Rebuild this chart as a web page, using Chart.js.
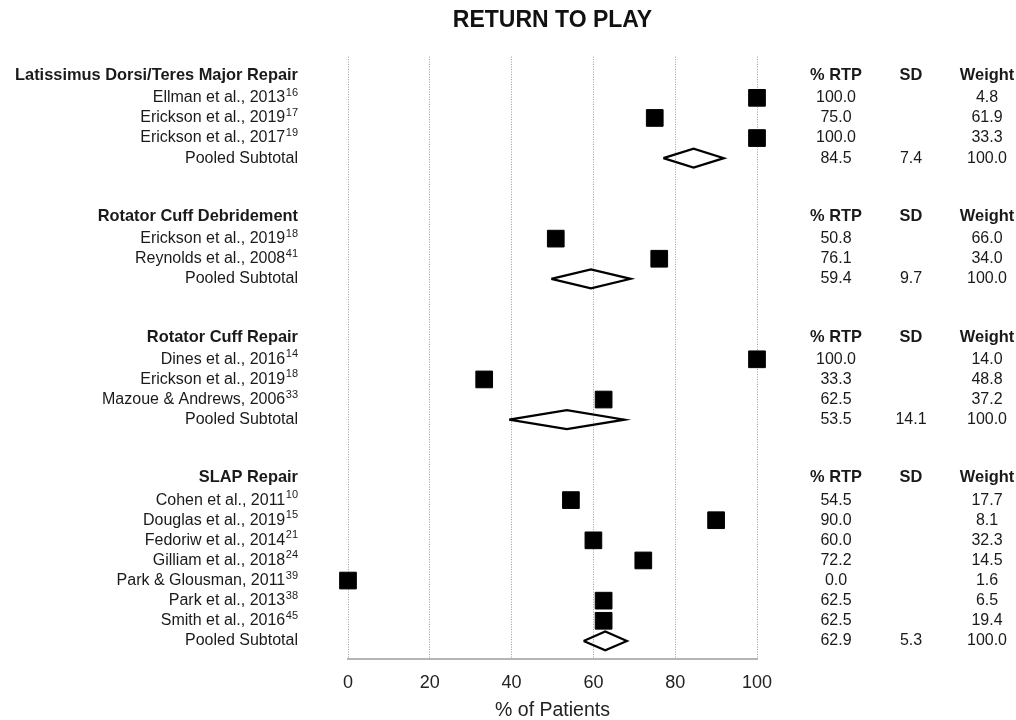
<!DOCTYPE html>
<html>
<head>
<meta charset="utf-8">
<title>Return to Play</title>
<script src="https://cdn.jsdelivr.net/npm/chart.js@4.4.1/dist/chart.umd.min.js"></script>
<style>
  html, body { margin: 0; padding: 0; background: #fff; }
  #wrap { width: 1016px; height: 720px; }
</style>
</head>
<body>
<div id="wrap"><canvas id="forestChart"></canvas></div>
<script>
const groups = ['Latissimus Dorsi/Teres Major Repair', 'Rotator Cuff Debridement', 'Rotator Cuff Repair', 'SLAP Repair'];

// one entry per study
const studyGroup = [0, 0, 0, 1, 1, 2, 2, 2, 3, 3, 3, 3, 3, 3, 3];
const studyNames = ['Ellman et al., 2013', 'Erickson et al., 2019', 'Erickson et al., 2017',
    'Erickson et al., 2019', 'Reynolds et al., 2008',
    'Dines et al., 2016', 'Erickson et al., 2019', 'Mazoue & Andrews, 2006',
    'Cohen et al., 2011', 'Douglas et al., 2019', 'Fedoriw et al., 2014', 'Gilliam et al., 2018',
    'Park & Glousman, 2011', 'Park et al., 2013', 'Smith et al., 2016'];
const studyRefs = ['16', '17', '19', '18', '41', '14', '18', '33', '10', '15', '21', '24', '39', '38', '45'];
const studyRTP = [100.0, 75.0, 100.0, 50.8, 76.1, 100.0, 33.3, 62.5, 54.5, 90.0, 60.0, 72.2, 0.0, 62.5, 62.5];
const studyWeight = [4.8, 61.9, 33.3, 66.0, 34.0, 14.0, 48.8, 37.2, 17.7, 8.1, 32.3, 14.5, 1.6, 6.5, 19.4];

// pooled subtotal per group
const pooledRTP = [84.5, 59.4, 53.5, 62.9];
const pooledSD = [7.4, 9.7, 14.1, 5.3];
const pooledWeight = [100.0, 100.0, 100.0, 100.0];

const xTicks = [0, 20, 40, 60, 80, 100];
const tableHeads = ['% RTP', 'SD', 'Weight'];

const FONT = '"Liberation Sans", Arial, Helvetica, sans-serif';

// row layout: header, studies, pooled, then a gap before the next group
const studyRow = [], pooledRow = [], headerRow = [];
let r = 0;
groups.forEach((g, gi) => {
    headerRow.push(r - 1.1);
    studyGroup.forEach((sg, i) => {
        if (sg === gi) studyRow[i] = r++;
    });
    pooledRow.push(r);
    r += 4;
});

const datasets = [{
    label: 'Studies',
    data: studyRTP.map((v, i) => ({ x: v, y: studyRow[i] })),
    pointStyle: 'rect',
    pointRadius: 11.8,
    backgroundColor: '#000',
    borderColor: '#000',
    borderWidth: 1,
    clip: false
}];

pooledRTP.forEach((m, gi) => {
    const sd = pooledSD[gi], row = pooledRow[gi];
    datasets.push({
        label: 'Pooled ' + groups[gi],
        data: [
            { x: m - sd, y: row },
            { x: m, y: row - 0.47 },
            { x: m + sd, y: row },
            { x: m, y: row + 0.47 },
            { x: m - sd, y: row }
        ],
        showLine: true,
        borderColor: '#000',
        borderWidth: 2.2,
        borderJoinStyle: 'miter',
        pointRadius: 0,
        fill: false,
        clip: false
    });
});

// left labels with superscript refs, and the table on the right
const forestText = {
    id: 'forestText',
    afterDraw(chart) {
        const ctx = chart.ctx;
        const y = chart.scales.y;
        const labelRight = 298;
        const cols = [836, 911, 987];
        ctx.save();
        ctx.fillStyle = '#1a1a1a';
        ctx.textBaseline = 'middle';

        groups.forEach((g, gi) => {
            const hy = y.getPixelForValue(headerRow[gi]);
            ctx.font = 'bold 16.4px ' + FONT;
            ctx.textAlign = 'right';
            ctx.fillText(g, labelRight, hy);
            ctx.textAlign = 'center';
            tableHeads.forEach((h, k) => ctx.fillText(h, cols[k], hy));

            const py = y.getPixelForValue(pooledRow[gi]);
            ctx.font = '16px ' + FONT;
            ctx.textAlign = 'right';
            ctx.fillText('Pooled Subtotal', labelRight, py);
            ctx.textAlign = 'center';
            ctx.fillText(pooledRTP[gi].toFixed(1), cols[0], py);
            ctx.fillText(pooledSD[gi].toFixed(1), cols[1], py);
            ctx.fillText(pooledWeight[gi].toFixed(1), cols[2], py);
        });

        studyNames.forEach((name, i) => {
            const sy = y.getPixelForValue(studyRow[i]);
            ctx.font = '11px ' + FONT;
            const supW = ctx.measureText(studyRefs[i]).width;
            ctx.textAlign = 'left';
            ctx.fillText(studyRefs[i], labelRight - supW, sy - 5);
            ctx.font = '16px ' + FONT;
            ctx.textAlign = 'right';
            ctx.fillText(name, labelRight - supW - 0.5, sy);
            ctx.textAlign = 'center';
            ctx.fillText(studyRTP[i].toFixed(1), cols[0], sy);
            ctx.fillText(studyWeight[i].toFixed(1), cols[2], sy);
        });
        ctx.restore();
    }
};

new Chart(document.getElementById('forestChart').getContext('2d'), {
    type: 'scatter',
    data: { datasets: datasets },
    options: {
        responsive: true,
        maintainAspectRatio: false,
        animation: false,
        layout: { padding: { left: 348, right: 259, top: 0, bottom: -2 } },
        scales: {
            x: {
                type: 'linear',
                min: 0,
                max: 100,
                afterBuildTicks: (axis) => { axis.ticks = xTicks.map(v => ({ value: v })); },
                ticks: { font: { size: 18, family: FONT }, color: '#222', padding: 13 },
                grid: { color: '#9a9a9a', lineWidth: 1, drawTicks: false },
                border: { display: true, color: '#b5b5b5', width: 2, dash: [1, 1.5] },
                title: {
                    display: true,
                    text: '% of Patients',
                    font: { size: 19.5, family: FONT },
                    color: '#222',
                    padding: { top: -8, bottom: 0 }
                }
            },
            y: {
                type: 'linear',
                display: false,
                reverse: true,
                min: -2.05,
                max: 27.9
            }
        },
        plugins: {
            legend: { display: false },
            tooltip: { enabled: false },
            title: {
                display: true,
                text: 'RETURN TO PLAY',
                fullSize: false,
                color: '#111',
                font: { size: 23, weight: 'bold', family: FONT },
                padding: { top: 7, bottom: 22 }
            }
        }
    },
    plugins: [forestText]
});
</script>
</body>
</html>
